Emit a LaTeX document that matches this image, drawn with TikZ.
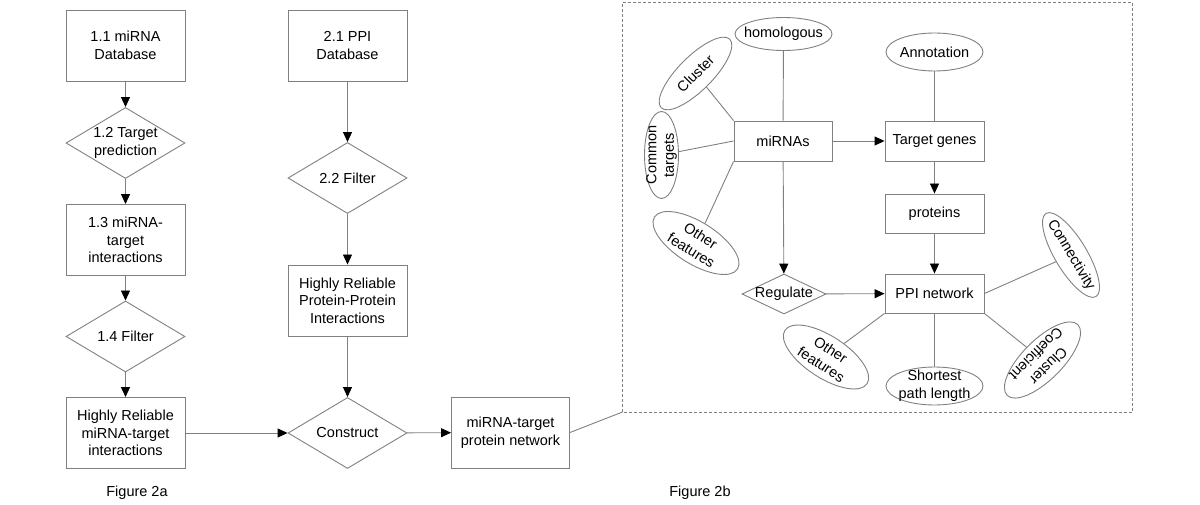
\documentclass[tikz,border=0pt]{standalone}
\usepackage{fontspec}
\setmainfont{Liberation Sans}
\usetikzlibrary{shapes.geometric,arrows.meta}
\definecolor{linegray}{RGB}{128,128,128}

\begin{document}
\begin{tikzpicture}[x=1pt,y=-1pt,
	font=\fontsize{14.5pt}{17.5pt}\selectfont,
	pbox/.style = {shape = rectangle,
	               draw = linegray,
	               line width = 0.9pt,
	               align = center,
	               inner sep = 1pt,
	               minimum width = 119pt,
	               minimum height = 71pt},
	sbox/.style = {pbox,
	               minimum width = 99pt,
	               minimum height = 40pt},
	pdia/.style = {shape = diamond,
	               draw = linegray,
	               line width = 0.9pt,
	               align = center,
	               inner sep = -2pt,
	               aspect = 1.686,
	               minimum width = 119pt,
	               minimum height = 71pt},
	pell/.style = {shape = ellipse,
	               draw = linegray,
	               line width = 0.9pt,
	               align = center,
	               inner xsep = -8pt,
	               inner ysep = -5pt,
	               minimum width = 97pt,
	               minimum height = 34pt},
	pline/.style = {draw = linegray, line width = 0.9pt},
	parrow/.style = {pline, -{Triangle[length=10pt,width=9pt,color=black]}}]
	\useasboundingbox (0,0) rectangle (1200,505);
		% Figure 2a, left column
		\node[pbox] (db1) at (125.5,45.5) {1.1 miRNA\\Database};
		\node[pdia] (pred) at (125.5,143) {1.2 Target\\prediction};
		\node[pbox] (int1) at (125.5,240) {1.3 miRNA-\\target\\interactions};
		\node[pdia] (filt1) at (125.5,336.5) {1.4 Filter};
		\node[pbox] (rel1) at (125.5,433) {Highly Reliable\\miRNA-target\\interactions};
		% Figure 2a, middle column
		\node[pbox] (db2) at (347.5,45.5) {2.1 PPI\\Database};
		\node[pdia] (filt2) at (347.5,178) {2.2 Filter};
		\node[pbox] (rel2) at (347.5,300.5) {Highly Reliable\\Protein-Protein\\Interactions};
		\node[pdia] (cons) at (347.5,433) {Construct};
		\node[pbox, minimum width=118pt] (net) at (510.5,432.5) {miRNA-target\\protein network};
		\node (capa) at (137,493) {Figure 2a};
		\node (capb) at (700,493) {Figure 2b};
		\path (db1) edge[parrow] (pred);
		\path (pred) edge[parrow] (int1);
		\path (int1) edge[parrow] (filt1);
		\path (filt1) edge[parrow] (rel1);
		\path (db2) edge[parrow] (filt2);
		\path (filt2) edge[parrow] (rel2);
		\path (rel2) edge[parrow] (cons);
		\path (rel1) edge[parrow] (cons);
		\path (cons) edge[parrow] (net);
		% Figure 2b, dashed frame
		\coordinate (frsw) at (622.5,412);
		\coordinate (frne) at (1132.5,2.5);
		\draw[linegray, line width=0.8pt, dash pattern=on 3pt off 2pt] (frsw) rectangle (frne);
		\path (net.east) edge[pline] (frsw);
		% Figure 2b, network
		\node[sbox, minimum width=98pt] (mir) at (783,141) {miRNAs};
		\node[sbox] (tgene) at (934.5,141) {Target genes};
		\node[sbox, minimum height=39pt] (prot) at (934.5,213.5) {proteins};
		\node[sbox, minimum height=39pt] (ppi) at (934.5,293.5) {PPI network};
		\node[pdia, aspect=2.1, minimum width=84pt, minimum height=40pt] (reg) at (784,294) {Regulate};
		\node[pell, minimum height=33pt] (homo) at (783.5,34) {homologous};
		\node[pell, minimum height=38pt] (anno) at (934.5,52) {Annotation};
		\node[pell, rotate=45] (clus) at (695.5,73.5) {Cluster};
		\node[pell, rotate=90, minimum width=87pt] (comm) at (661.5,155) {Common\\targets};
		\node[pell, rotate=-32, minimum width=98pt, minimum height=42pt] (oth1) at (696,243) {Other\\features};
		\node[pell, rotate=-59, minimum height=32pt] (conn) at (1071,255) {Connectivity};
		\node[pell, rotate=-33, minimum width=98pt, minimum height=42pt] (oth2) at (826,357) {Other\\features};
		\node[pell, minimum height=38pt] (short) at (934.5,386) {Shortest\\path length};
		\node[pell, rotate=-135, minimum width=100pt, minimum height=40pt] (ccoef) at (1042.5,360) {Cluster\\Coefficient};
		\path (homo) edge[pline] (mir);
		\path (clus) edge[pline] (mir.north west);
		\path (comm) edge[pline] (mir.west);
		\path (oth1) edge[pline] (mir.south west);
		\path (anno) edge[pline] (tgene);
		\path (mir) edge[parrow] (tgene);
		\path (tgene) edge[parrow] (prot);
		\path (prot) edge[parrow] (ppi);
		\path (mir) edge[parrow] (reg);
		\path (reg) edge[parrow] (ppi);
		\path (conn) edge[pline] (ppi.east);
		\path (oth2) edge[pline] (ppi.south west);
		\path (short) edge[pline] (ppi);
		\path (ccoef) edge[pline] (ppi.south east);
	\end{tikzpicture}
\end{document}
